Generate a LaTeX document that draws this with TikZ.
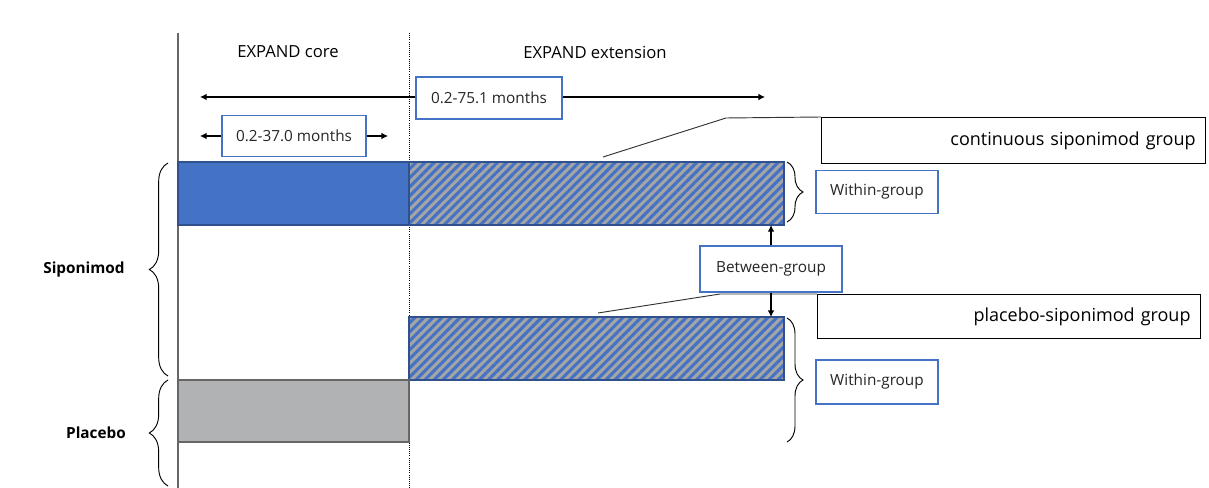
\documentclass[tikz,border=0pt]{standalone}
\usepackage{fontspec}
\setmainfont{Open Sans}
\usepackage{xcolor}
\usetikzlibrary{arrows.meta,positioning,patterns.meta,decorations.pathreplacing}
\definecolor{barblue}{HTML}{4472C4}
\definecolor{edgeblue}{HTML}{2F528F}
\definecolor{bargray}{HTML}{B1B2B4}
\definecolor{hatchgray}{HTML}{A5A5A5}
\definecolor{txtgray}{HTML}{262626}
\newcommand{\px}{0.75pt}

\begin{document}
\begin{tikzpicture}[x=\px,y=-\px,font=\fontsize{11.5}{13}\selectfont,text=txtgray,
  bar/.style={draw,line width=0.8pt,anchor=north west,inner sep=0pt,outer sep=0pt,minimum height=63*\px},
  corebar/.style={bar,fill=barblue,draw=edgeblue,minimum width=231*\px},
  placebar/.style={bar,fill=bargray,draw=gray!80!black,minimum width=231*\px,minimum height=62*\px},
  hatchbar/.style={bar,draw=edgeblue,minimum width=375*\px,preaction={fill=hatchgray},
    pattern={Lines[angle=45,distance=4.8pt,line width=2.3pt]},pattern color=barblue},
  bluebox/.style={draw=barblue,line width=0.8pt,fill=white,inner sep=0pt},
  callbox/.style={draw=black,line width=0.8pt,anchor=north west,inner sep=7.5pt,align=right,
    text=black,font=\fontsize{13.5}{15}\selectfont},
  period/.style={text=black,font=\fontsize{12.5}{14}\selectfont},
  arm/.style={text=black,font=\fontsize{11.5}{13}\selectfont\bfseries},
  arr/.style={-{Latex[length=5pt,width=5pt]},line width=0.8pt},
  lbrace/.style={decorate,decoration={brace,amplitude=14pt},line width=0.7pt},
  rbrace/.style={decorate,decoration={brace,amplitude=12pt},line width=0.7pt},
  callout/.style={draw=black!80,line width=0.7pt}]
\useasboundingbox (0,0) rectangle (1209,488);

% study periods
\draw[gray!80!black,line width=0.8pt] (178,33) -- (178,488);
\draw[densely dotted,line width=0.6pt] (409,33) -- (409,488);
\node[period] (core) at (288,52) {EXPAND core};
\node[period] (ext) at (595,52) {EXPAND extension};

% follow-up ranges
\node[bluebox,minimum width=146*\px,minimum height=42*\px] (r75) at (489,98) {0.2-75.1 months};
\coordinate (r75l) at (200,97);
\coordinate (r75r) at (765,97);
\draw[arr] (r75.west |- r75l) -- (r75l);
\draw[arr] (r75.east |- r75r) -- (r75r);
\node[bluebox,minimum width=144*\px,minimum height=41*\px] (r37) at (294,136) {0.2-37.0 months};
\coordinate (r37l) at (200,136);
\coordinate (r37r) at (388,136);
\draw[arr] (r37.west) -- (r37l);
\draw[arr] (r37.east) -- (r37r);

% treatment bars
\node[corebar] (sb) at (178,162) {};
\node[hatchbar] (hb1) at (409,162) {};
\node[hatchbar] (hb2) at (409,317) {};
\node[placebar] (pb) at (178,380) {};

% groups
\node[callbox,text width=364*\px,minimum height=46*\px] (cont) at (821,117) {continuous siponimod group};
\draw[callout] (603,157) -- (726,118) -- (cont.north west);
\node[callbox,text width=363*\px,minimum height=44*\px] (plsip) at (817,294) {placebo-siponimod group};
\draw[callout] (598,313) -- (720,294) -- (plsip.north west);

% comparisons
\node[bluebox,minimum width=122*\px,minimum height=43*\px] (win1) at (877,192) {Within-group};
\node[bluebox,minimum width=122*\px,minimum height=44*\px] (win2) at (877,382) {Within-group};
\node[bluebox,minimum width=142*\px,minimum height=46*\px] (btw) at (771,269) {Between-group};
\draw[arr] (btw.north) -- (btw.north |- hb1.south);
\draw[arr] (btw.south) -- (btw.south |- hb2.north);
\draw[rbrace] (787,162) -- (787,222);
\draw[rbrace] (787,318) -- (787,442);

% arms
\draw[lbrace] (168,376) -- (168,163);
\draw[lbrace] (168,486) -- (168,380);
\node[arm] (sip) at (84,270) {Siponimod};
\node[arm] (plc) at (96,433) {Placebo};
\end{tikzpicture}
\end{document}
